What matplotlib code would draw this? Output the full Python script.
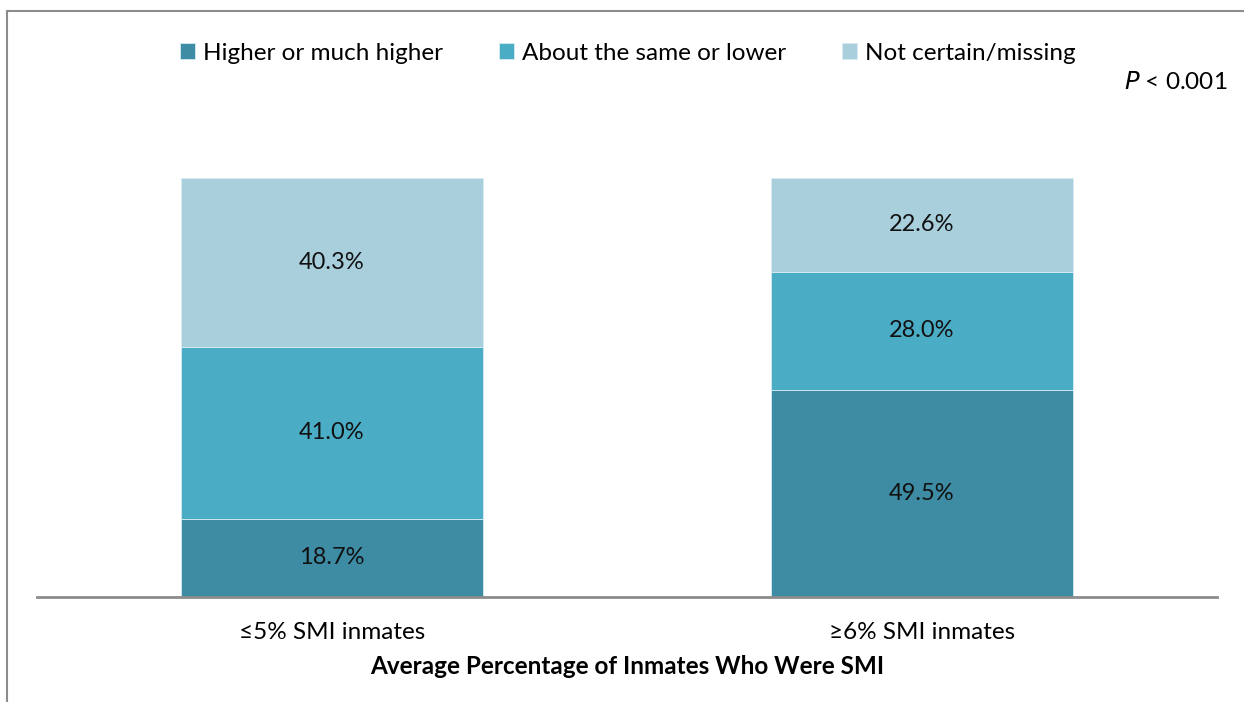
import matplotlib.pyplot as plt
from matplotlib.patches import Rectangle

plt.rcParams['font.family'] = ['Lato', 'DejaVu Sans']

categories = ['≤5% SMI inmates', '≥6% SMI inmates']
series_names = ['Higher or much higher', 'About the same or lower', 'Not certain/missing']
higher = [18.7, 49.5]
same_lower = [41.0, 28.0]
not_certain = [40.3, 22.6]
colors = ['#3d8ca4', '#4bacc6', '#a9cfdd']

W, H = 1244, 702
fig = plt.figure(figsize=(W / 100, H / 100), dpi=100)

# axes placed so the bars span baseline y=597 up to 100% at y=178
ax = fig.add_axes([37 / W, 1 - 597 / H, 1180 / W, (597 - 178) / H])

x = range(len(categories))
bottom = [0, 0]
for vals, name, col in zip([higher, same_lower, not_certain], series_names, colors):
    bars = ax.bar(x, vals, width=0.512, bottom=bottom, color=col, label=name,
                  edgecolor='#d6ebf2', linewidth=0.6)
    for b, v, b0 in zip(bars, vals, bottom):
        ax.text(b.get_x() + b.get_width() / 2, b0 + v / 2, f'{v:.1f}%',
                ha='center', va='center', fontsize=17, color='#111111')
    bottom = [b0 + v for b0, v in zip(bottom, vals)]

ax.set_xlim(-0.5, 1.5)
ax.set_ylim(0, 100)
for s in ['top', 'right', 'left']:
    ax.spines[s].set_visible(False)
ax.spines['bottom'].set_color('#8c8c8c')
ax.spines['bottom'].set_linewidth(2)
ax.set_yticks([])
ax.set_xticks(list(x))
ax.set_xticklabels(categories, fontsize=17.5)
ax.tick_params(axis='x', length=0, pad=18)
ax.set_xlabel('Average Percentage of Inmates Who Were SMI', fontsize=17.5,
              fontweight='bold', labelpad=9)

fig.legend(loc='center', bbox_to_anchor=(628 / W, 1 - 53 / H), ncol=3,
           frameon=False, fontsize=17.5, handlelength=0.6, handleheight=0.6,
           handletextpad=0.35, columnspacing=2.3)

fig.text(1227 / W, 1 - 82 / H, r'$P$ < 0.001', ha='right', va='center', fontsize=17.5)

# chart border (only left and top edges are inside the picture)
fig.patches.append(Rectangle((7 / W, -0.1), 1.2, 1 - 11 / H + 0.1,
                             transform=fig.transFigure, fill=False,
                             edgecolor='#8c8c8c', linewidth=1.5))

fig.savefig('out.png', dpi=100)
